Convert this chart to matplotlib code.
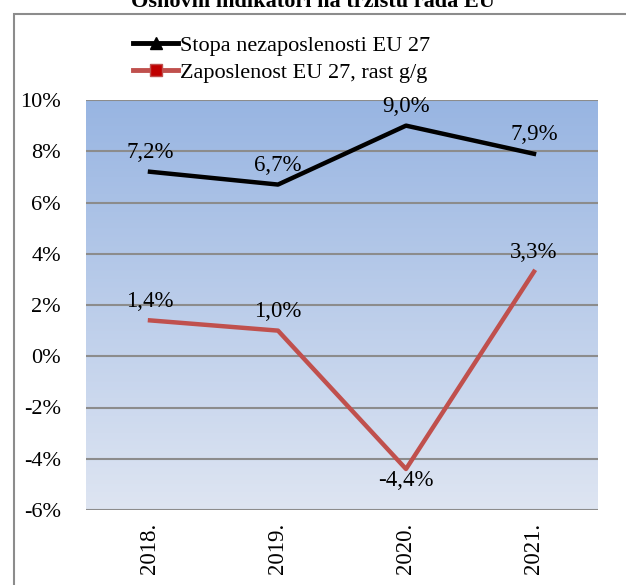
import matplotlib.pyplot as plt
import numpy as np
from matplotlib.patches import Rectangle
from matplotlib.ticker import FuncFormatter

years = ["2018.", "2019.", "2020.", "2021."]
unemployment = [7.2, 6.7, 9.0, 7.9]
employment_growth = [1.4, 1.0, -4.4, 3.3]
y_ticks = [-6, -4, -2, 0, 2, 4, 6, 8, 10]

plt.rcParams["font.family"] = ["Liberation Serif", "DejaVu Serif"]

fig = plt.figure(figsize=(6.26, 5.85), dpi=100)
ax = fig.add_axes([86 / 626, 1 - 510 / 585, 512 / 626, 410 / 585])

# outer chart frame
fig.patches.append(Rectangle((14 / 626, -0.1), 1.0, 1 - 14 / 585 + 0.1,
                             transform=fig.transFigure, fill=False,
                             edgecolor="#8c8c8c", linewidth=1.5))

x = np.arange(len(years))
ax.set_xlim(-0.5, len(years) - 0.5)
ax.set_ylim(-6, 10)

# gradient fill for plot area
grad = np.linspace(0, 1, 256).reshape(-1, 1)
top = np.array([152, 181, 226]) / 255
bottom = np.array([222, 229, 242]) / 255
img = bottom + (top - bottom) * grad
ax.imshow(img[:, None, :].repeat(2, axis=1), extent=[-0.5, len(years) - 0.5, -6, 10],
          origin="lower", aspect="auto", zorder=0)

for t in y_ticks:
    ax.axhline(t, color="#8c8c8c", linewidth=1.5, zorder=1)

l1, = ax.plot(x, unemployment, color="black", linewidth=3.2, zorder=3,
              label="Stopa nezaposlenosti EU 27")
l2, = ax.plot(x, employment_growth, color="#c0504d", linewidth=3.2, zorder=3,
              label="Zaposlenost EU 27, rast g/g")

fmt = lambda v: f"{v:.1f}%".replace(".", ",")
for xi, v in zip(x, unemployment):
    ax.annotate(fmt(v), (xi, v), xytext=(0, 6), textcoords="offset points",
                ha="center", va="bottom", fontsize=16.5, zorder=4)
for xi, v in zip(x, employment_growth):
    off, va = ((0, -1), "top") if v < 0 else ((0, 6), "bottom")
    ax.annotate(fmt(v), (xi, v), xytext=off, textcoords="offset points",
                ha="center", va=va, fontsize=16.5, zorder=4)

ax.set_yticks(y_ticks)
ax.yaxis.set_major_formatter(FuncFormatter(lambda v, p: f"{v:.0f}%"))
ax.set_xticks(x)
ax.set_xticklabels(years, rotation=90)
ax.tick_params(axis="both", length=0, labelsize=16)
ax.tick_params(axis="y", pad=18)
ax.tick_params(axis="x", labelsize=16.5, pad=9)
for side in ["top", "right", "left", "bottom"]:
    ax.spines[side].set_visible(False)

h1 = plt.Line2D([], [], color="black", linewidth=3.5, marker="^", markersize=9)
h2 = plt.Line2D([], [], color="#c0504d", linewidth=3.5, marker="s", markersize=9,
                markerfacecolor="#c00000", markeredgecolor="#c0504d")
fig.legend([h1, h2], [l1.get_label(), l2.get_label()], loc="upper center",
           bbox_to_anchor=(0.45, 1 - 15 / 585), frameon=False, fontsize=16,
           handlelength=2.0, handletextpad=0.1, labelspacing=0.3)

fig.text(0.5, 1 - 7 / 585, "Osnovni indikatori na tržištu rada EU", ha="center",
         va="baseline", fontsize=16, fontweight="bold")

fig.savefig("out.png", dpi=100)
